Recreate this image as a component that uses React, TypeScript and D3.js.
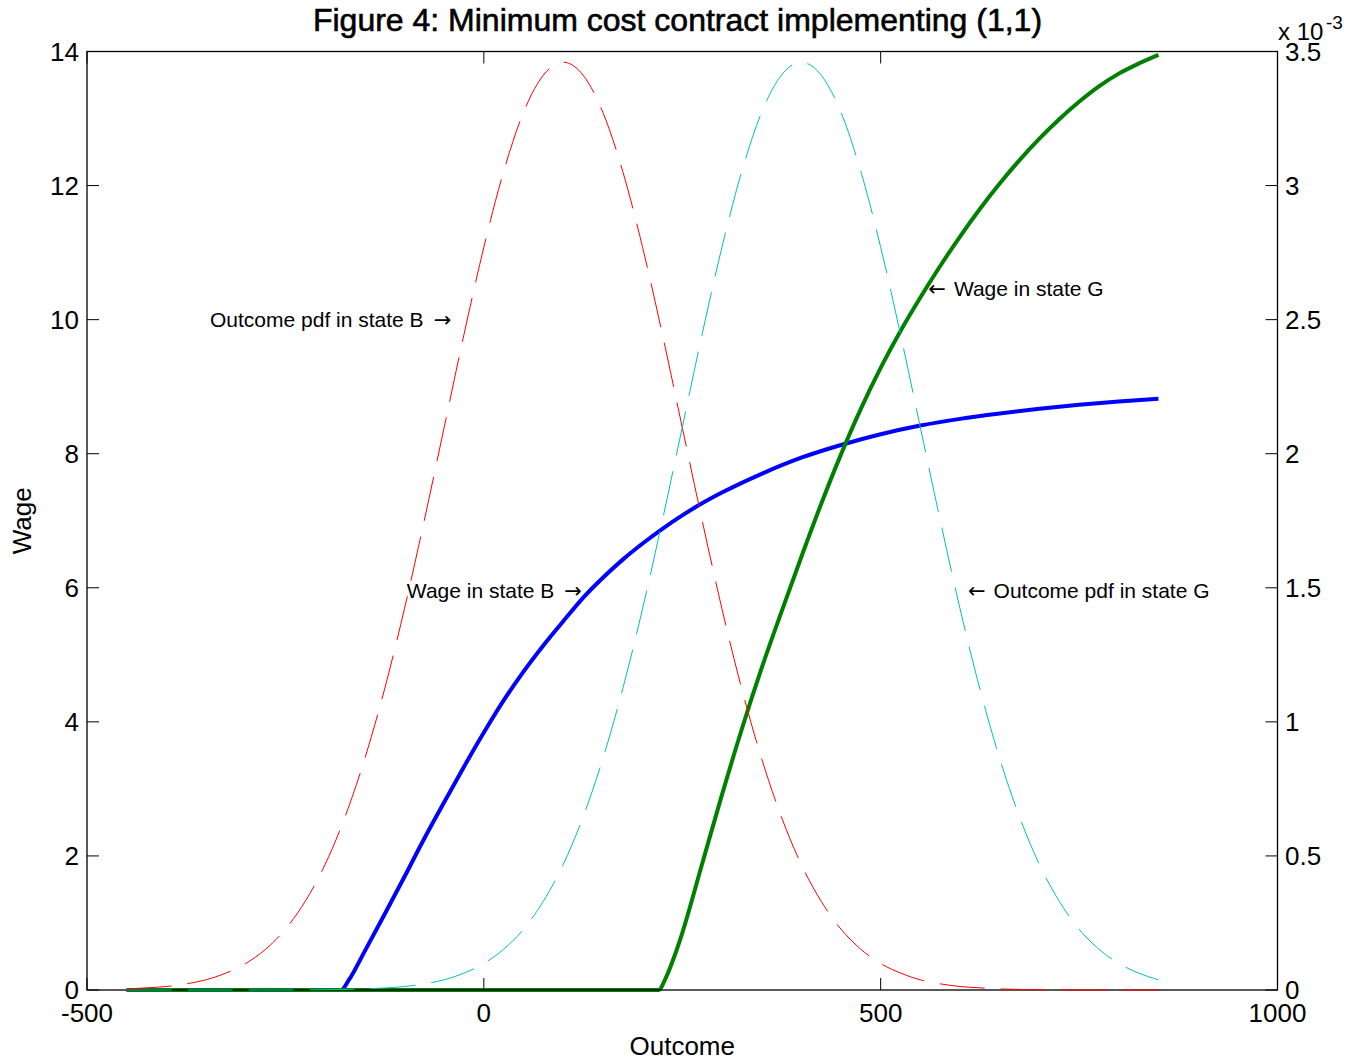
import React from "react";
import * as d3 from "d3";

// ---- data ----
const outcome = [
  -450, -425, -400, -375, -350, -325, -300, -275, -250, -225, -200, -175, -150, -125, -100, -75, -50, -25,
  0, 25, 50, 75, 100, 125, 150, 175, 200, 225, 250, 275, 300, 325, 350, 375, 400, 425, 450, 475, 500,
  525, 550, 575, 600, 625, 650, 675, 700, 725, 750, 775, 800, 825, 850,
];
// Outcome pdfs (x 10^-3)
const pdfB = [
  0.004, 0.008, 0.013, 0.023, 0.038, 0.063, 0.099, 0.152, 0.227, 0.331, 0.468, 0.645, 0.863, 1.123, 1.422, 1.752, 2.098, 2.445,
  2.77, 3.053, 3.273, 3.412, 3.46, 3.412, 3.273, 3.053, 2.77, 2.445, 2.098, 1.752, 1.422, 1.123, 0.863, 0.645, 0.468, 0.331, 0.227, 0.152, 0.099,
  0.063, 0.038, 0.023, 0.013, 0.008, 0.004, 0.002, 0.001, 0.001, 0, 0, 0, 0, 0,
];
const pdfG = [
  0, 0, 0, 0, 0, 0, 0.0001, 0.0001, 0.0003, 0.0006, 0.0012, 0.0022, 0.0042, 0.0076, 0.013, 0.023, 0.038, 0.063,
  0.099, 0.152, 0.227, 0.331, 0.468, 0.645, 0.863, 1.123, 1.422, 1.752, 2.098, 2.445, 2.77, 3.053, 3.273, 3.412, 3.46, 3.412, 3.273, 3.053, 2.77,
  2.445, 2.098, 1.752, 1.422, 1.123, 0.863, 0.645, 0.468, 0.331, 0.227, 0.152, 0.099, 0.063, 0.038,
];
const wageBX = [-450, -180, -170, -150, -125, -100, -75, -50, -25, 0, 25, 50, 75, 100, 125, 150, 175, 200, 225, 250, 275, 300, 350, 400, 450, 500, 550, 600, 650, 700, 750, 800, 850];
const wageBY = [0, 0, 0.15, 0.58, 1.13, 1.69, 2.26, 2.8, 3.33, 3.84, 4.32, 4.75, 5.14, 5.5, 5.85, 6.15, 6.42, 6.66, 6.88, 7.08, 7.26, 7.42, 7.7, 7.94, 8.13, 8.29, 8.42, 8.52, 8.6, 8.67, 8.73, 8.78, 8.82];
const wageGX = [-450, 220, 230, 240, 250, 275, 300, 325, 350, 375, 400, 425, 450, 475, 500, 525, 550, 575, 600, 625, 650, 675, 700, 725, 750, 775, 800, 825, 850];
const wageGY = [0, 0, 0.2, 0.5, 0.85, 1.88, 2.91, 3.89, 4.8, 5.64, 6.46, 7.25, 7.99, 8.67, 9.28, 9.83, 10.33, 10.8, 11.24, 11.65, 12.03, 12.38, 12.7, 12.99, 13.25, 13.48, 13.67, 13.82, 13.95];

const xTicks = [-500, 0, 500, 1000];
const yLeftTicks = [0, 2, 4, 6, 8, 10, 12, 14];
const yRightTicks = [0, 0.5, 1, 1.5, 2, 2.5, 3, 3.5];

const annotations = [
  { text: "Outcome pdf in state B", arrow: "→", side: "right", x: -345, y: 10 },
  { text: "Wage in state B", arrow: "→", side: "right", x: -97, y: 5.96 },
  { text: "Wage in state G", arrow: "←", side: "left", x: 560, y: 10.47 },
  { text: "Outcome pdf in state G", arrow: "←", side: "left", x: 610, y: 5.96 },
];

const W = 1364;
const H = 1063;
const L = 87, R = 1277.5, T = 51.5, B = 990;
const FONT = "'Liberation Sans', Arial, Helvetica, sans-serif";
const ARROW_FONT = "'DejaVu Sans', sans-serif";

export default function App() {
  const x = d3.scaleLinear().domain([-500, 1000]).range([L, R]);
  const yL = d3.scaleLinear().domain([0, 14]).range([B, T]);
  const yR = d3.scaleLinear().domain([0, 3.5]).range([B, T]);

  const wageLine = d3
    .line<[number, number]>()
    .x((d) => x(d[0]))
    .y((d) => yL(d[1]))
    .curve(d3.curveMonotoneX);
  const pdfLine = d3
    .line<[number, number]>()
    .x((d) => x(d[0]))
    .y((d) => yR(d[1]))
    .curve(d3.curveMonotoneX);

  const bPts = wageBX.map((v, i) => [v, wageBY[i]] as [number, number]);
  const gPts = wageGX.map((v, i) => [v, wageGY[i]] as [number, number]);
  const pBPts = outcome.map((v, i) => [v, pdfB[i]] as [number, number]);
  const pGPts = outcome.map((v, i) => [v, pdfG[i]] as [number, number]);

  const tickLen = 12;
  const fs = 26;

  return (
    <svg
      width={W}
      height={H}
      style={{ position: "absolute", left: 0, top: 0, background: "#fff" }}
      fontFamily={FONT}
    >
      <rect x={0} y={0} width={W} height={H} fill="#fff" />
      {/* wage lines (left axis) */}
      <path d={wageLine(bPts) || ""} fill="none" stroke="#0000ff" strokeWidth={4} />
      <path d={wageLine(gPts) || ""} fill="none" stroke="#008000" strokeWidth={4} />

      {/* axes box */}
      <rect x={L} y={T} width={R - L} height={B - T} fill="none" stroke="#000" strokeWidth={1.3} />

      {/* x ticks */}
      {xTicks.map((t) => (
        <g key={"x" + t}>
          <line x1={x(t)} x2={x(t)} y1={B} y2={B - tickLen} stroke="#000" strokeWidth={1} />
          <line x1={x(t)} x2={x(t)} y1={T} y2={T + tickLen} stroke="#000" strokeWidth={1} />
          <text x={x(t)} y={1022} fontSize={fs} textAnchor="middle" fill="#000">
            {t}
          </text>
        </g>
      ))}
      {/* left ticks */}
      {yLeftTicks.map((t) => (
        <g key={"yl" + t}>
          <line x1={L} x2={L + tickLen} y1={yL(t)} y2={yL(t)} stroke="#000" strokeWidth={1} />
          <text x={79} y={yL(t) + 9.3} fontSize={fs} textAnchor="end" fill="#000">
            {t}
          </text>
        </g>
      ))}
      {/* right ticks */}
      {yRightTicks.map((t) => (
        <g key={"yr" + t}>
          <line x1={R} x2={R - tickLen} y1={yR(t)} y2={yR(t)} stroke="#000" strokeWidth={1} />
          <text x={1285} y={yR(t) + 9.3} fontSize={fs} textAnchor="start" fill="#000">
            {t}
          </text>
        </g>
      ))}
      {/* exponent */}
      <text x={1278} y={40} fontSize={24} fill="#000">
        x 10
      </text>
      <text x={1326} y={29} fontSize={19} fill="#000">
        -3
      </text>

      {/* pdf lines (right axis) */}
      <path d={pdfLine(pBPts) || ""} fill="none" stroke="#ff0000" strokeWidth={1} strokeDasharray="45 16" />
      <path d={pdfLine(pGPts) || ""} fill="none" stroke="#00bfbf" strokeWidth={1} strokeDasharray="45 16" />

      {/* annotations */}
      {annotations.map((a, i) =>
        a.side === "right" ? (
          <text key={i} x={x(a.x)} y={yL(a.y) + 7.5} fontSize={21} fill="#000">
            {a.text}
            <tspan dx={10} fontFamily={ARROW_FONT} fontSize={21}>
              {a.arrow}
            </tspan>
          </text>
        ) : (
          <text key={i} x={x(a.x)} y={yL(a.y) + 7.5} fontSize={21} fill="#000">
            <tspan fontFamily={ARROW_FONT} fontSize={21}>
              {a.arrow}
            </tspan>
            <tspan dx={8}>{a.text}</tspan>
          </text>
        )
      )}

      {/* labels */}
      <text x={(L + R) / 2} y={1055} fontSize={fs} textAnchor="middle" fill="#000">
        Outcome
      </text>
      <text
        transform={`translate(31, ${(T + B) / 2}) rotate(-90)`}
        fontSize={fs}
        textAnchor="middle"
        fill="#000"
      >
        Wage
      </text>
      <text
        x={677.5}
        y={31}
        fontSize={32}
        textAnchor="middle"
        fill="#000"
        stroke="#000"
        strokeWidth={0.6}
      >
        Figure 4: Minimum cost contract implementing (1,1)
      </text>
    </svg>
  );
}
